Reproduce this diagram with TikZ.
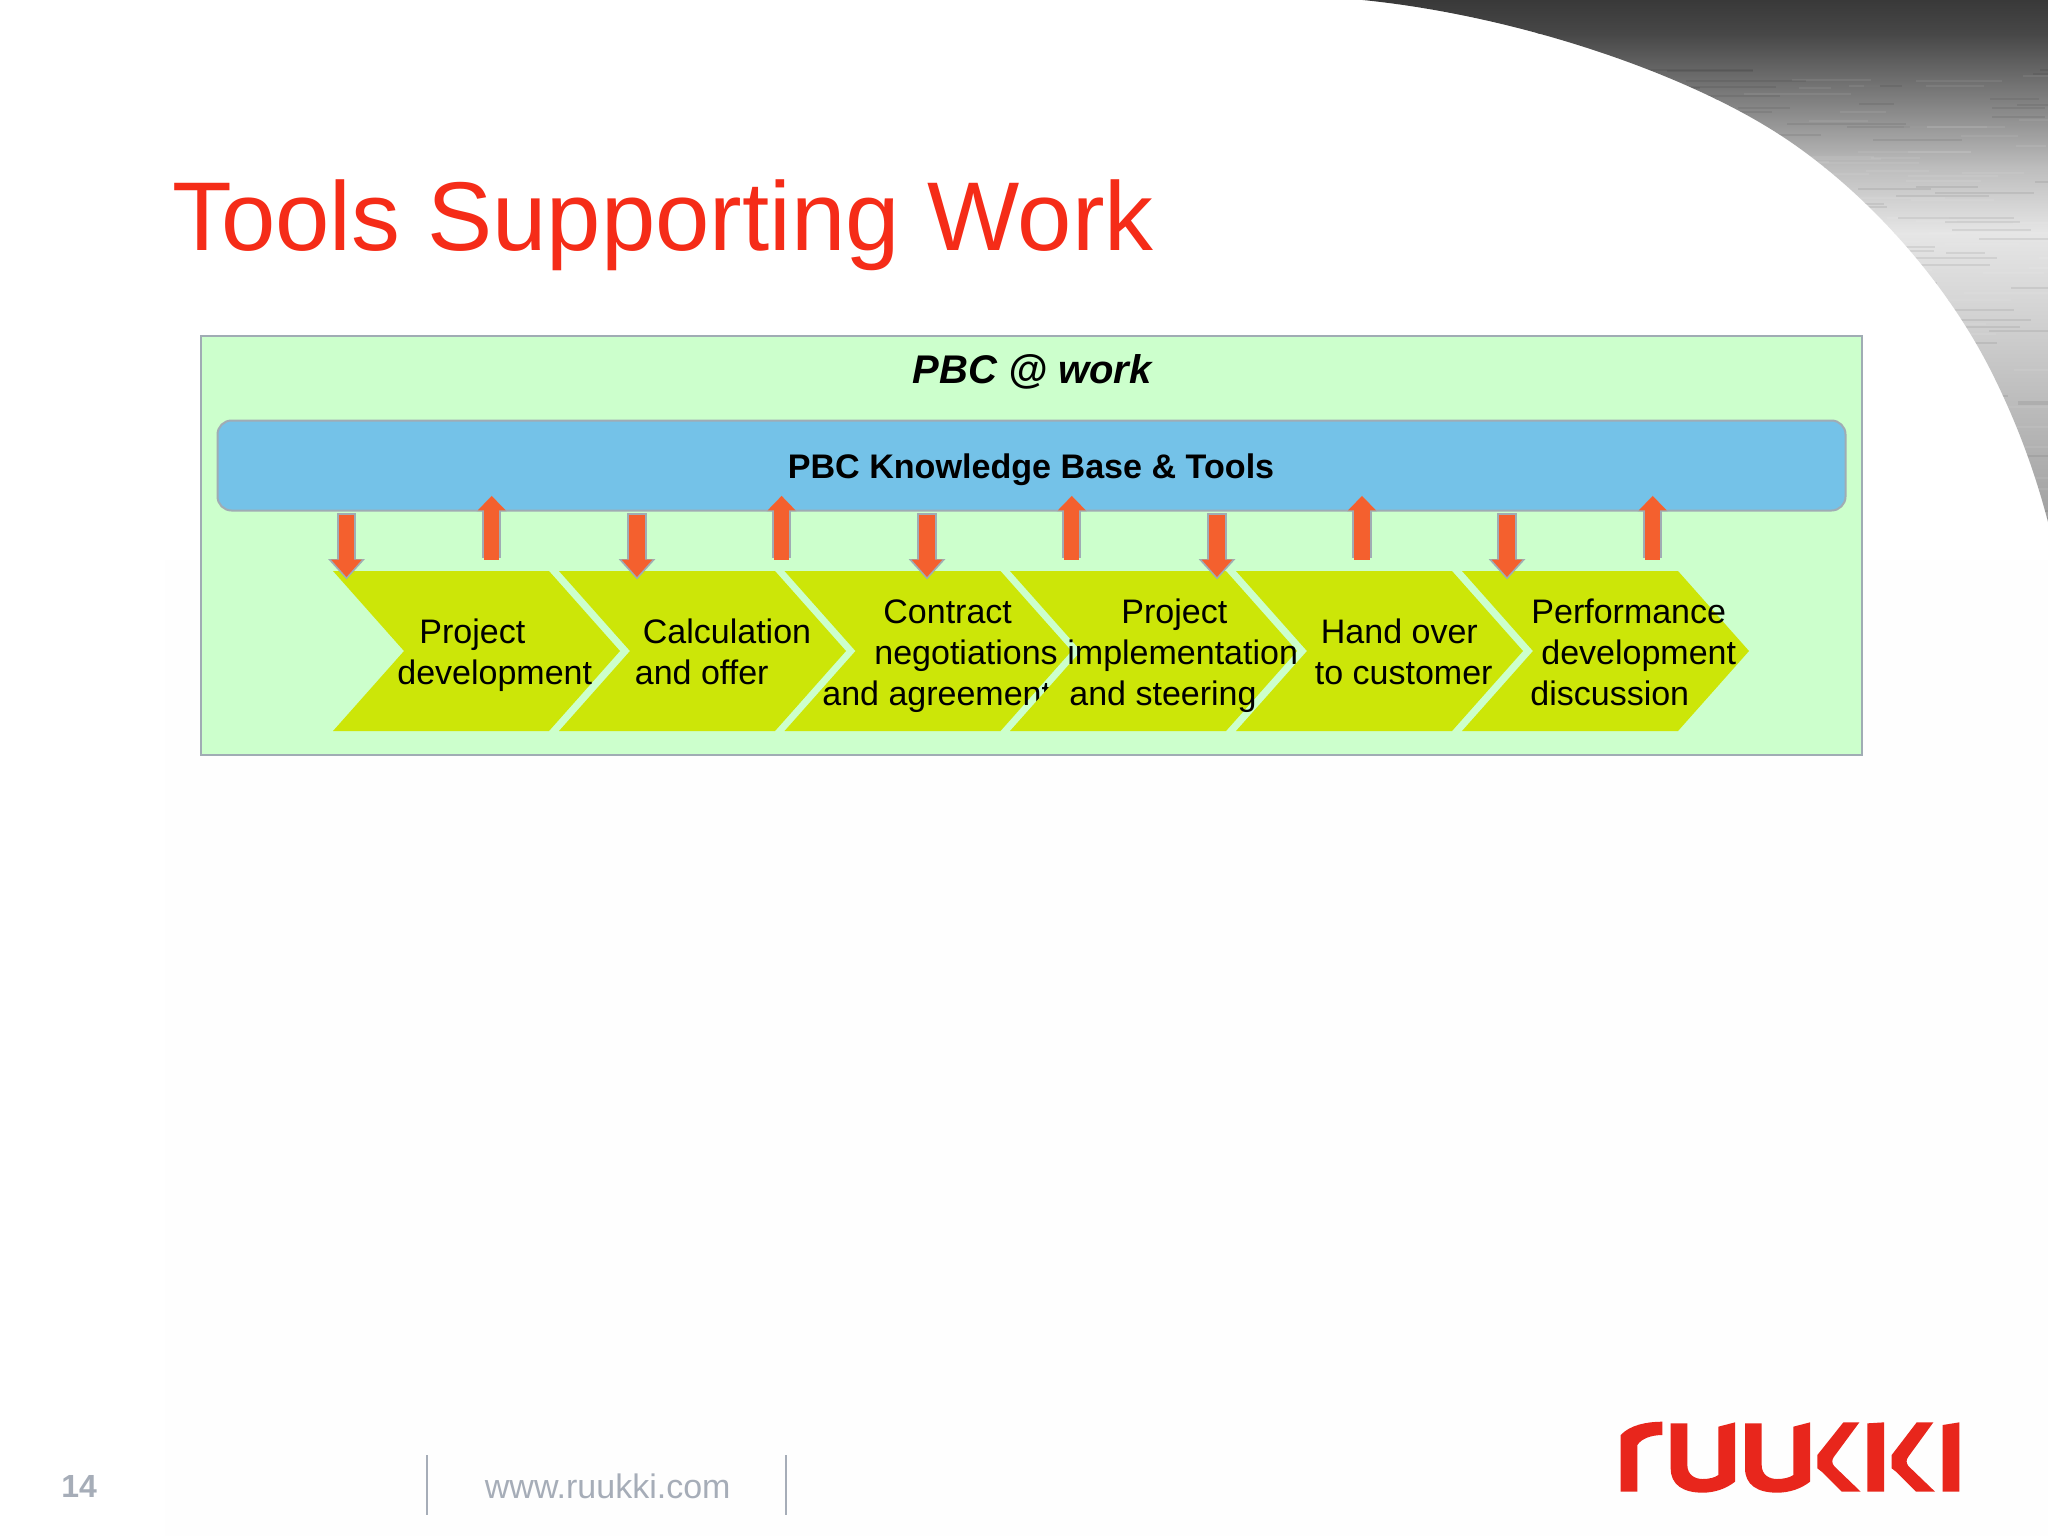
\documentclass[tikz,border=0pt]{standalone}
\usepackage{fontspec}
\setmainfont{Liberation Sans}
\usetikzlibrary{arrows.meta}
\definecolor{titlered}{HTML}{F52C18}
\definecolor{panelgreen}{HTML}{CCFFCC}
\definecolor{edgegray}{HTML}{A0ACB4}
\definecolor{barblue}{HTML}{74C2E8}
\definecolor{chevgreen}{HTML}{CCE608}
\definecolor{arroworange}{HTML}{F4602E}
\definecolor{footgray}{HTML}{A6ADB8}
\definecolor{logored}{HTML}{E8261C}
\tikzset{
  panelbox/.style={draw=edgegray,line width=1.2pt,fill=panelgreen,inner sep=0pt},
  barbox/.style={draw=edgegray,line width=1pt,fill=barblue,rounded corners=7pt,inner sep=0pt},
  chevlabel/.style={anchor=north west,inner sep=0pt,align=left,text=black,font=\fontsize{17}{20.5}\selectfont},
  chevfill/.style={fill=chevgreen},
  arrowunderdown/.style={draw=edgegray,line width=9.6pt,-{Triangle[length=10.2pt,width=17.8pt,fill=edgegray]},shorten >=-1.2pt},
  arrowoverdown/.style={draw=arroworange,line width=7.6pt,-{Triangle[length=8.7pt,width=14.8pt,fill=arroworange]}},
  arrowunderup/.style={draw=edgegray,line width=9.6pt,-{Triangle[length=8pt,width=14.5pt,fill=edgegray]},shorten >=-.3pt},
  arrowoverup/.style={draw=arroworange,line width=7.6pt,-{Triangle[length=7.2pt,width=13.5pt,fill=arroworange]}},
  footrule/.style={draw=footgray,line width=1pt},
  logoshape/.style={fill=logored}
}
\newcommand{\chevshape}[2]{%
  \path[chevfill] (#1,571) -- (#1+216,571) -- (#1+287,651) -- (#1+216,731) -- (#1,731) -- (#1+71,651) -- cycle;
  }
\begin{document}
\begin{tikzpicture}[x=0.5pt,y=-0.5pt]
\useasboundingbox (0,0) rectangle (2048,1536);
\fill[white] (0,0) rectangle (2048,1536);
\fill[black!0.3] (165,560) rectangle (2048,1536);
% swoosh
\begin{scope}
\clip (1340,-2) .. controls (1500,10) and (1677,69) .. (1777,133)
  .. controls (1857,184) and (1942,273) .. (1992,373)
  .. controls (2015,419) and (2035,470) .. (2050,530) -- (2050,-2) -- cycle;
\shade[top color=black!78,bottom color=black!72] (1300,-2) rectangle (2050,34);
\shade[top color=black!72,bottom color=black!50] (1300,34) rectangle (2050,100);
\shade[top color=black!50,bottom color=black!26] (1300,100) rectangle (2050,167);
\shade[top color=black!26,bottom color=black!10] (1300,167) rectangle (2050,233);
\shade[top color=black!10,bottom color=black!16] (1300,233) rectangle (2050,300);
\shade[top color=black!16,bottom color=black!26] (1300,300) rectangle (2050,400);
\shade[top color=black!26,bottom color=black!38] (1300,400) rectangle (2050,530);
\pgfmathsetseed{7}
\foreach \k in {1,...,260}{
  \pgfmathsetmacro{\sx}{1560+random(0,480)}
  \pgfmathsetmacro{\sy}{70+random(0,450)}
  \pgfmathsetmacro{\sl}{30+random(0,90)}
  \pgfmathsetmacro{\sc}{isodd(\k)?"white":"black"}
  \draw[\sc,opacity=0.07,line width=1.1pt] (\sx,\sy) -- (\sx+\sl,\sy);
}
\end{scope}
% title
\node[anchor=base west,inner sep=0pt,text=titlered,font=\fontsize{48.85}{56}\selectfont] (title) at (172,250) {Tools Supporting Work};
% panel
\node[panelbox,minimum width=830.5pt,minimum height=209.5pt] (panel) at (1031.3,545.5) {};
\node[anchor=base,inner sep=0pt,font=\fontsize{20}{24}\selectfont\bfseries\itshape] (paneltitle) at (1032,383) {PBC @ work};
\node[barbox,minimum width=814pt,minimum height=45pt] (bar) at (1031.5,465.5) {};
\node[anchor=base,inner sep=0pt,font=\fontsize{17.05}{20.5}\selectfont\bfseries] (bartext) at (1031,478) {PBC Knowledge Base \& Tools};
% chevrons
\chevshape{333}{}
\node[chevlabel] (lab1) at (397,618) {\hspace*{11pt}\vphantom{d}Project\\development};
\chevshape{559}{}
\node[chevlabel] (lab2) at (634.5,618) {\hspace*{4pt}\vphantom{d}Calculation\\and offer};
\chevshape{784.5}{}
\node[chevlabel] (lab3) at (822,598) {\hspace*{30.5pt}\vphantom{d}Contract\\\hspace*{26pt}negotiations\\and agreement};
\chevshape{1010}{}
\node[chevlabel] (lab4) at (1067,598) {\hspace*{27pt}\vphantom{d}Project\\implementation\\\hspace*{1pt}and steering};
\chevshape{1236}{}
\node[chevlabel] (lab5) at (1314.5,618) {\hspace*{3pt}\vphantom{d}Hand over\\to customer};
\chevshape{1462}{}
\node[chevlabel] (lab6) at (1530,598) {\hspace*{.5pt}\vphantom{d}Performance\\\hspace*{5.5pt}development\\discussion};
% arrows
\foreach \i/\xx in {1/346.5,2/637,3/927,4/1217,5/1507}{
  \coordinate (down\i a) at (\xx,513);
  \coordinate (down\i b) at (\xx,577);
  \draw[arrowunderdown] (down\i a) -- (down\i b);
  \draw[arrowoverdown] ([yshift=-1pt]down\i a) -- (down\i b);
}
\foreach \i/\xx in {1/491.7,2/781.6,3/1071.8,4/1362,5/1652.7}{
  \coordinate (up\i a) at (\xx,558);
  \coordinate (up\i b) at (\xx,496);
  \draw[arrowunderup] (up\i a) -- (up\i b);
  \draw[arrowoverup] ([yshift=-.8pt]up\i a) -- (up\i b);
}
% footer
\node[anchor=base west,inner sep=0pt,text=footgray,font=\fontsize{16}{19}\selectfont\bfseries] (pagenum) at (61,1497) {14};
\node[anchor=base west,inner sep=0pt,text=footgray,font=\fontsize{17}{20}\selectfont] (url) at (484.5,1498) {www.ruukki.com};
\coordinate (ruleAa) at (427,1455);
\coordinate (ruleAb) at (427,1515);
\coordinate (ruleBa) at (786,1455);
\coordinate (ruleBb) at (786,1515);
\draw[footrule] (ruleAa) -- (ruleAb);
\draw[footrule] (ruleBa) -- (ruleBb);
% logo
\begin{scope}[shift={(1580,1390)},x=0.16667pt,y=-0.16667pt]
% r
\path[logoshape] (122,305) -- (122,135) .. controls (150,105) and (200,95) .. (247,95) -- (247,135)
  .. controls (215,135) and (185,145) .. (172,165) -- (172,305) -- cycle;
% u
\path[logoshape] (272,100) -- (322,100) -- (322,225) .. controls (322,255) and (345,267) .. (368,267)
  .. controls (390,267) and (405,262) .. (415,255) -- (415,110) -- (465,97) -- (465,275)
  .. controls (440,295) and (405,308) .. (368,308) .. controls (310,308) and (272,285) .. (272,235) -- cycle;
% u
\path[logoshape] (495,100) -- (545,100) -- (545,225) .. controls (545,255) and (568,267) .. (591,267)
  .. controls (613,267) and (630,262) .. (640,255) -- (640,110) -- (690,97) -- (690,275)
  .. controls (665,295) and (630,308) .. (591,308) .. controls (533,308) and (495,285) .. (495,235) -- cycle;
% k arms
\path[logoshape] (790,97) -- (838,97) -- (762,200) .. controls (755,210) and (755,218) .. (762,228)
  -- (842,305) -- (785,305) -- (725,245) -- (712,235) -- (712,195) -- cycle;
% k stem
\path[logoshape] (862,100) -- (912,97) -- (912,305) -- (862,305) -- cycle;
% k arms
\path[logoshape] (1010,97) -- (1060,97) -- (985,200) .. controls (978,210) and (978,218) .. (985,228)
  -- (1065,305) -- (1008,305) -- (948,245) -- (935,235) -- (935,195) -- cycle;
% i
\path[logoshape] (1088,105) -- (1138,97) -- (1138,305) -- (1088,305) -- cycle;
\end{scope}
\end{tikzpicture}
\end{document}
